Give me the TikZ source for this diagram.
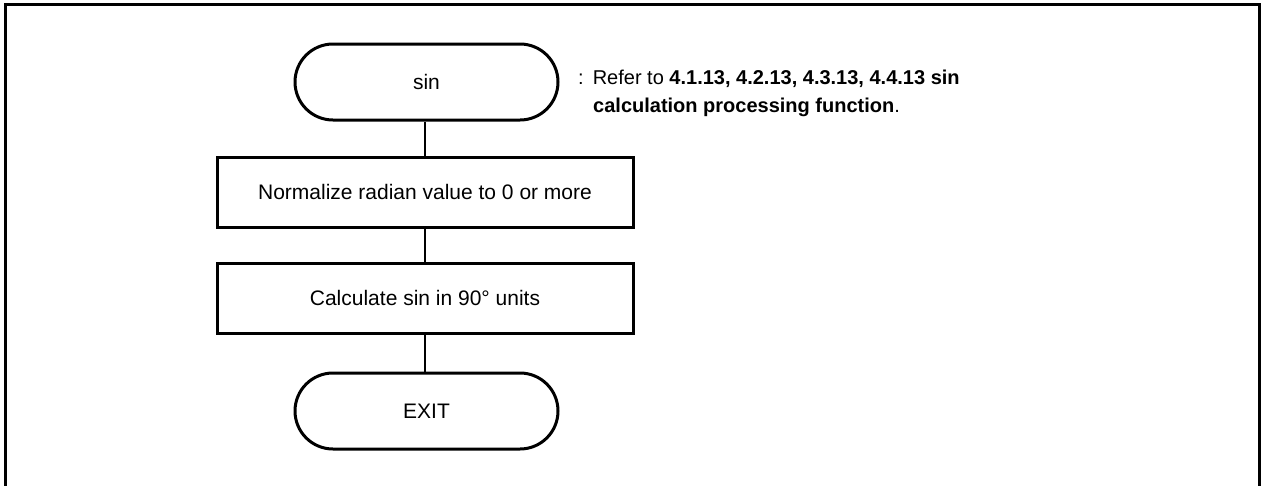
\documentclass[tikz,border=0pt]{standalone}
\usepackage{fontspec}
\setmainfont{Liberation Sans}
\usetikzlibrary{shapes.misc}
\begin{document}
\begin{tikzpicture}[x=1pt,y=-1pt,
  term/.style={draw,line width=3pt,rounded rectangle,rounded rectangle arc length=180,
    minimum width=263pt,minimum height=76pt,inner sep=0pt,font=\fontsize{21}{25}\selectfont},
  procbox/.style={draw,line width=3pt,rectangle,minimum width=416pt,minimum height=70pt,
    inner sep=0pt,font=\fontsize{21}{25}\selectfont},
  conn/.style={line width=2pt},
  note/.style={anchor=north west,align=left,inner sep=0pt,font=\fontsize{20}{28}\selectfont}]
\useasboundingbox (0,0) rectangle (1262,485);
\draw[line width=3pt] (5.5,486) -- (5.5,4.5) -- (1259.5,4.5) -- (1259.5,486);
\node[term] (sin) at (426.5,82) {sin};
\node[procbox] (norm) at (425,192) {Normalize radian value to 0 or more};
\node[procbox] (calc) at (425,298) {Calculate sin in 90° units};
\node[term] (exit) at (426.5,411) {EXIT};
\draw[conn] (sin.south -| norm.north) -- (norm.north);
\draw[conn] (norm) -- (calc);
\draw[conn] (calc.south) -- (calc.south |- exit.north);
\node[note] (ref) at (578,70) {:\hspace{9pt}Refer to \textbf{4.1.13, 4.2.13, 4.3.13, 4.4.13 sin}\\
\hspace{15pt}\textbf{calculation processing function}.};
\end{tikzpicture}
\end{document}
